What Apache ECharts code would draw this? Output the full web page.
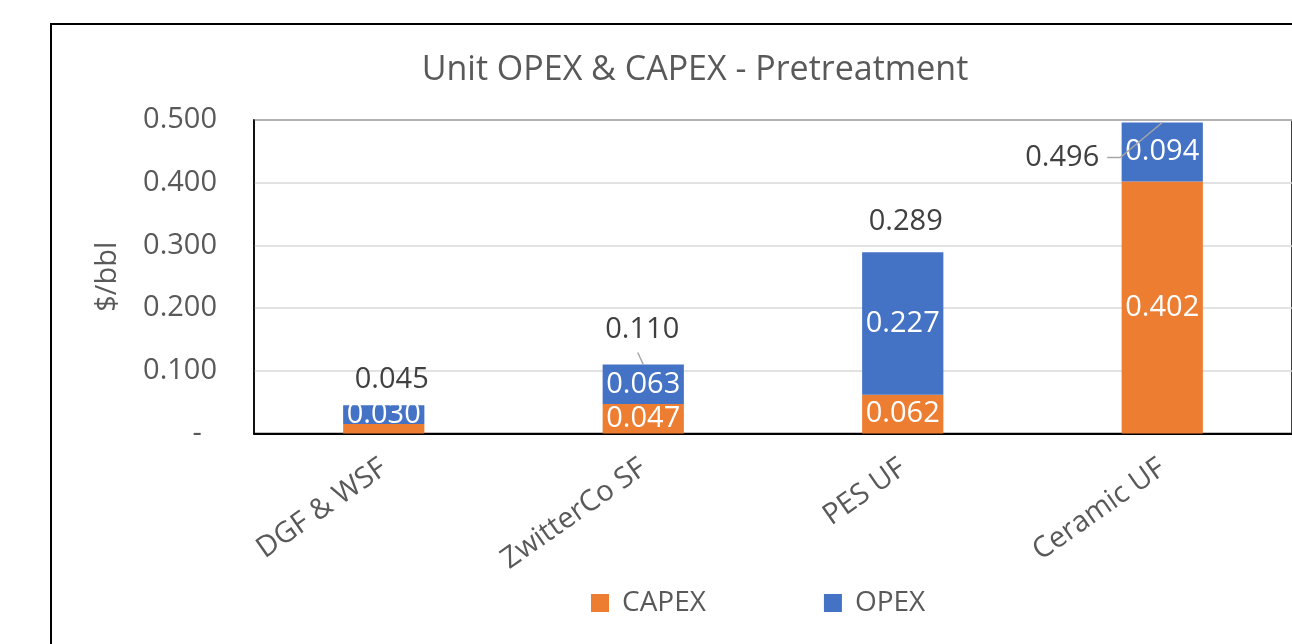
<!DOCTYPE html>
<html>
<head>
<meta charset="utf-8">
<script src="https://cdn.jsdelivr.net/npm/echarts@6/dist/echarts.min.js"></script>
<style>
html,body{margin:0;padding:0;background:#fff;}
#chart{width:1292px;height:644px;}
</style>
</head>
<body>
<div id="chart"></div>
<script>
// ---- data ----
var categories = ['DGF & WSF', 'ZwitterCo SF', 'PES UF', 'Ceramic UF'];
var capex = [0.015, 0.047, 0.062, 0.402];
var opex = [0.030, 0.063, 0.227, 0.094];
var totals = [0.045, 0.110, 0.289, 0.496];
var yTicks = [0, 0.1, 0.2, 0.3, 0.4, 0.5];

// ---- layout / style (not data) ----
var FONT = '"Open Sans", "Noto Sans", sans-serif';
var FS = 29;
var capexLabelShown = [false, true, true, true];
// total label centre offset from bar top (px)
var totalLabelOffsets = [[8, -26], [-1, -35], [3, -31], [-100, 35]];
// leader line polylines relative to bar top (px); null = none
var totalLeaders = [null, [[0, 0], [-5.5, -12]], null, [[0, 0], [-42, 35], [-55, 35]]];

var chart = echarts.init(document.getElementById('chart'), null, {renderer: 'canvas'});

var option = {
  animation: false,
  title: {
    text: 'Unit OPEX & CAPEX - Pretreatment',
    left: 690,
    textAlign: 'center',
    top: 48,
    textStyle: {color: '#595959', fontSize: 34, fontWeight: 'normal', fontFamily: FONT}
  },
  legend: {
    data: ['CAPEX', 'OPEX'],
    left: 586,
    top: 584,
    icon: 'rect',
    itemWidth: 18,
    itemHeight: 18,
    itemGap: 118,
    textStyle: {color: '#595959', fontSize: 28, fontFamily: FONT, padding: [0, 0, 0, 8]}
  },
  graphic: [{
    type: 'rect',
    shape: {x: 51, y: 24, width: 1400, height: 800},
    style: {fill: 'none', stroke: '#000', lineWidth: 2},
    silent: true,
    z: -1
  }],
  grid: {
    left: 254, top: 120, width: 1048, height: 313.5,
    show: true, borderColor: '#000', borderWidth: 1.5, backgroundColor: 'transparent'
  },
  xAxis: {
    type: 'category',
    data: categories,
    axisLine: {show: true, lineStyle: {color: '#000', width: 2}},
    axisTick: {show: false},
    axisLabel: {
      rotate: 35, margin: 32, color: '#595959', fontSize: FS, fontFamily: FONT, interval: 0
    }
  },
  yAxis: {
    type: 'value',
    min: yTicks[0],
    max: yTicks[yTicks.length - 1],
    interval: 0.1,
    name: '$/bbl',
    nameLocation: 'middle',
    nameRotate: 90,
    nameGap: 132,
    nameTextStyle: {color: '#595959', fontSize: FS, fontFamily: FONT},
    axisLine: {show: true, lineStyle: {color: '#000', width: 1.5}},
    axisTick: {show: false},
    splitLine: {show: true, lineStyle: {color: '#D9D9D9', width: 1.5}},
    axisLabel: {
      margin: 37, color: '#595959', fontSize: FS, fontFamily: FONT,
      formatter: function (v) { return Math.abs(v) < 1e-9 ? '-  ' : v.toFixed(3); }
    }
  },
  series: [
    {
      name: 'CAPEX',
      type: 'bar',
      stack: 'cost',
      barWidth: '31.3%',
      itemStyle: {color: '#ED7D31'},
      data: capex.map(function (v, i) {
        return {value: v, label: {show: capexLabelShown[i]}};
      }),
      label: {
        show: true, position: 'inside', color: '#fff', fontSize: FS, fontFamily: FONT,
        formatter: function (p) { return p.value.toFixed(3); }
      }
    },
    {
      name: 'OPEX',
      type: 'bar',
      stack: 'cost',
      barWidth: '31.3%',
      itemStyle: {color: '#4472C4'},
      data: opex,
      label: {
        show: true, position: 'inside', color: '#fff', fontSize: FS, fontFamily: FONT,
        formatter: function (p) { return p.value.toFixed(3); }
      }
    },
    {
      name: 'Total',
      type: 'custom',
      z: 5,
      data: totals.map(function (v, i) { return [i, v]; }),
      renderItem: function (params, api) {
        var i = api.value(0);
        var pt = api.coord([i, api.value(1)]);
        var off = totalLabelOffsets[params.dataIndex];
        var children = [{
          type: 'text',
          x: pt[0] + off[0],
          y: pt[1] + off[1],
          style: {
            text: api.value(1).toFixed(3),
            fill: '#404040',
            font: FS + 'px ' + FONT,
            align: 'center',
            verticalAlign: 'middle'
          }
        }];
        var ld = totalLeaders[params.dataIndex];
        if (ld) {
          children.push({
            type: 'polyline',
            shape: {points: ld.map(function (d) { return [pt[0] + d[0], pt[1] + d[1]]; })},
            style: {stroke: '#A6A6A6', lineWidth: 1.5, fill: null}
          });
        }
        return {type: 'group', children: children};
      }
    }
  ]
};
chart.setOption(option);
</script>
</body>
</html>
